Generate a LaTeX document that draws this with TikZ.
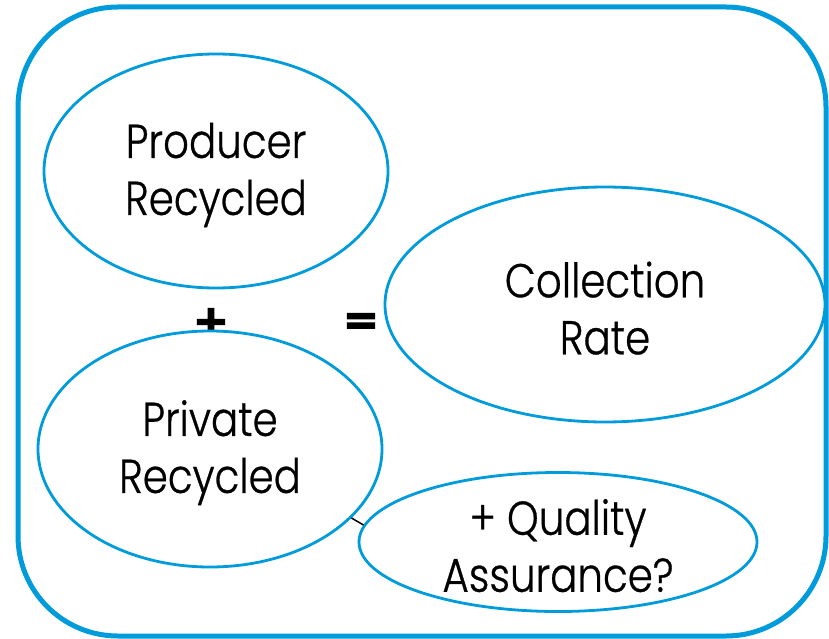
\documentclass[tikz,border=0pt]{standalone}
\usepackage{fontspec}
\setmainfont{Poppins Light}[FakeStretch=0.85,FakeBold=0.6]
\newfontfamily\symfont[FakeBold=3.5]{DejaVu Sans Bold}
\usetikzlibrary{shapes.geometric}
\definecolor{frameblue}{RGB}{0,155,219}
\newcommand{\toppad}{\rule{0pt}{43pt}}
\begin{document}
\begin{tikzpicture}[x=1pt,y=-1pt,
  bubble/.style={ellipse, draw=frameblue, line width=2.8pt, fill=white, inner sep=-10pt, align=center, font=\fontsize{47.5}{57}\selectfont},
  sign/.style={inner sep=0pt, font=\symfont\fontsize{43}{43}\selectfont}]
\useasboundingbox (0,0) rectangle (829,639);
\draw[frameblue, line width=5pt, rounded corners=100pt] (18,7) rectangle (826,636);
\node[sign] (plus) at (211,322) {+};
\node[sign] (eq) at (361,324) {=};
\node[bubble, minimum width=344pt, minimum height=234pt] (prod) at (216,171) {\toppad Producer\\Recycled};
\node[bubble, minimum width=440pt, minimum height=235pt] (coll) at (605,304.5) {\toppad Collection\\Rate};
\node[bubble, minimum width=344pt, minimum height=236pt] (priv) at (210,449) {\toppad Private\\Recycled};
\node[bubble, minimum width=398pt, minimum height=139pt] (qa) at (558,542) {\toppad + Quality\\Assurance?};
\draw[line width=1.5pt] (priv.-26.6) -- (qa.175.6);
\end{tikzpicture}
\end{document}
